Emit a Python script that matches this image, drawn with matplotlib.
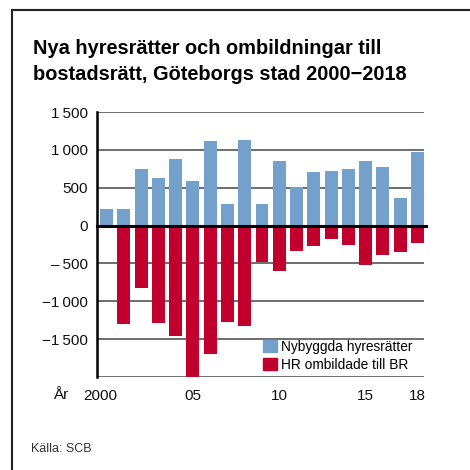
import numpy as np
import matplotlib.pyplot as plt
from matplotlib.patches import Patch
from matplotlib.transforms import ScaledTranslation

plt.rcParams['font.family'] = ['Liberation Sans', 'DejaVu Sans']

# Data
years = list(range(2000, 2019))
new_rentals = [215, 215, 750, 630, 880, 590, 1115, 285, 1130, 285,
               855, 510, 710, 720, 750, 855, 775, 365, 975]
converted = [-15, -1295, -825, -1285, -1465, -2100, -1700, -1270, -1320, -475,
             -595, -340, -270, -180, -260, -525, -395, -355, -235]
tick_years = [2000, 2005, 2010, 2015, 2018]
tick_labels = ['2000', '05', '10', '15', '18']
ytick_vals = [1500, 1000, 500, 0, -500, -1000, -1500]
ytick_labels = ['1\u2009500', '1\u2009000', '500', '0', '\u2013\u2009500',
                '\u22121\u2009000', '\u22121\u2009500']

blue = '#74a1cb'
red = '#c1002e'

W = 470
fig = plt.figure(figsize=(4.7, 4.7), dpi=100)

def fx(px):
    return px / W

def fy(py):
    return 1 - py / W

ax = fig.add_axes([fx(97), fy(377), fx(424) - fx(97), fy(112) - fy(377)])

x = np.arange(len(years))
ax.bar(x, new_rentals, width=0.75, color=blue, zorder=3)
ax.bar(x, converted, width=0.75, color=red, zorder=3)

ax.set_xlim(-0.55, len(years) - 1 + 0.376)
ax.set_ylim(-2000, 1500)

for v in [1500, 1000, 500, -500, -1000, -1500, -2000]:
    ax.axhline(v, color='#555555', lw=1.2, zorder=1)
ax.axhline(0, color='black', lw=2.2, zorder=4, xmax=1.006, clip_on=False)

for s in ['top', 'right', 'bottom']:
    ax.spines[s].set_visible(False)
ax.spines['left'].set_linewidth(1.8)
ax.spines['left'].set_color('black')

ax.set_yticks(ytick_vals)
ax.set_yticklabels(ytick_labels)
ax.set_xticks([y - years[0] for y in tick_years])
ax.set_xticklabels(tick_labels)
ax.tick_params(axis='both', length=0, labelsize=11, colors='#111111')
ax.tick_params(axis='y', pad=6.5)
ax.tick_params(axis='x', pad=9)
# first year label sits slightly left of its bar
lbl = ax.get_xticklabels()[0]
lbl.set_transform(lbl.get_transform() + ScaledTranslation(-6 / 100, 0, fig.dpi_scale_trans))

fig.text(fx(53), fy(395), 'År', fontsize=11, ha='left', va='center', color='#111111')

fig.text(fx(33), fy(54), 'Nya hyresrätter och ombildningar till',
         fontsize=14.4, fontweight='bold', ha='left', va='baseline')
fig.text(fx(33), fy(79.5), 'bostadsrätt, Göteborgs stad 2000\u22122018',
         fontsize=14.4, fontweight='bold', ha='left', va='baseline')

fig.text(fx(31), fy(449), 'Källa: SCB', fontsize=9, ha='left', va='center', color='#333333')

handles = [Patch(color=blue, label='Nybyggda hyresrätter'),
           Patch(color=red, label='HR ombildade till BR')]
ax.legend(handles=handles, loc='upper left', bbox_to_anchor=(fx(263), fy(340)),
          bbox_transform=fig.transFigure, frameon=False, fontsize=9.9,
          borderpad=0, borderaxespad=0, handlelength=1.0, handleheight=1.0,
          handletextpad=0.3, labelspacing=0.28)

# frame lines (top and left)
fig.add_artist(plt.Line2D([fx(12), 1], [fy(9.5), fy(9.5)], color='#222222', lw=1.5,
                          transform=fig.transFigure))
fig.add_artist(plt.Line2D([fx(12), fx(12)], [fy(9.5), 0], color='#222222', lw=1.5,
                          transform=fig.transFigure))

fig.savefig('out.png', dpi=100)
